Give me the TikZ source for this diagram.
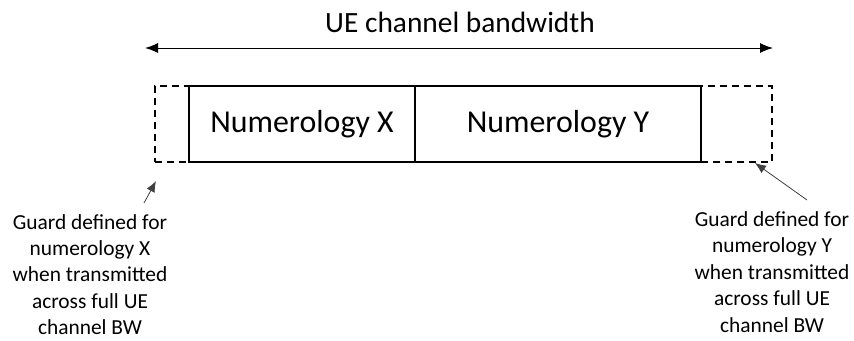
\documentclass[tikz,border=0pt]{standalone}
\usepackage{fontspec}
\setmainfont{Carlito}
\usetikzlibrary{arrows.meta}
\begin{document}
\begin{tikzpicture}[x=1bp,y=-1bp,
  guardbox/.style={draw, dashed, dash pattern=on 7bp off 5bp, line width=1.6bp, minimum height=76bp, inner sep=0pt},
  numbox/.style={draw, line width=1.4bp, minimum height=76bp, inner sep=0pt, font=\fontsize{32}{38}\selectfont},
  note/.style={align=center, inner sep=0pt, font=\fontsize{21.5}{26.5}\selectfont},
  pointer/.style={-{Latex[length=11bp,width=9bp]}, line width=0.8bp, draw=black!75},
  span/.style={{Latex[length=13bp,width=10bp]}-{Latex[length=13bp,width=10bp]}, line width=1bp}]
\useasboundingbox (0,0) rectangle (854,340);
% title
\node[inner sep=0pt, font=\fontsize{29.5}{34}\selectfont] (title) at (460,22) {UE channel bandwidth};
% bandwidth arrow
\coordinate (aL) at (145,48);
\coordinate (aR) at (773,48);
\draw[span] (aL) -- (aR);
% boxes
\node[guardbox, minimum width=34bp] (gx) at (172,124) {};
\node[guardbox, minimum width=71bp] (gy) at (736.5,124) {};
\node[numbox, minimum width=226bp] (nx) at (302,124) {Numerology X};
\node[numbox, minimum width=286bp] (ny) at (558,124) {Numerology Y};
% notes
\node[note] (lx) at (90,274.5) {Guard defined for\\numerology X\\when transmitted\\across full UE\\channel BW};
\node[note] (ly) at (772,272) {Guard defined for\\numerology Y\\when transmitted\\across full UE\\channel BW};
\coordinate (px) at (144,203);
\coordinate (py) at (807,200);
\draw[pointer] (px) -- (156,181);
\draw[pointer] (py) -- (755,163);
\end{tikzpicture}
\end{document}
